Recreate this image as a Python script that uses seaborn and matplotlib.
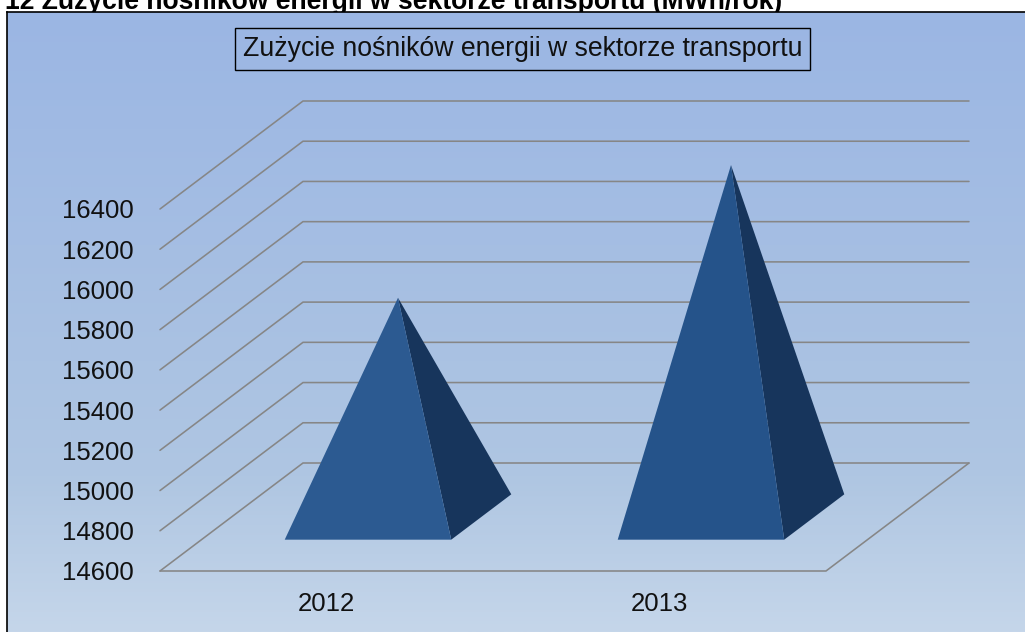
import matplotlib
matplotlib.use("Agg")
import matplotlib.pyplot as plt
from matplotlib.colors import LinearSegmentedColormap
import numpy as np
import pandas as pd
import seaborn as sns

years = ["2012", "2013"]
values = [15690, 16350]
y_ticks = [14600, 14800, 15000, 15200, 15400, 15600, 15800, 16000, 16200, 16400]
chart_title = "Zużycie nośników energii w sektorze transportu"
heading = "12 Zużycie nośników energii w sektorze transportu (MWh/rok)"

W, H = 1025, 632

sns.set_theme(style="white")
plt.rcParams["font.family"] = ["Liberation Sans", "DejaVu Sans"]

fig = plt.figure(figsize=(W / 100, H / 100), dpi=100, facecolor="white")

# background panel with the gradient, only left and top border
bg = fig.add_axes([7 / W, 0, 1 - 7 / W, 1 - 12 / H], zorder=0)
cmap = LinearSegmentedColormap.from_list(
    "panel", [(0, "#9BB6E4"), (0.75, "#AFC6E2"), (1, "#C5D6EA")])
bg.imshow(np.linspace(0, 1, 256).reshape(-1, 1), aspect="auto", cmap=cmap)
bg.set_xticks([])
bg.set_yticks([])
for side in ["right", "bottom"]:
    bg.spines[side].set_visible(False)
for side in ["left", "top"]:
    bg.spines[side].set_color("black")
    bg.spines[side].set_linewidth(1.2)

# the front plane of the 3d box is the real axes
ax = fig.add_axes([160 / W, 1 - 571 / H, 666 / W, 362 / H], zorder=1)
ax.patch.set_alpha(0)

df = pd.DataFrame({"year": years, "value": values})
sns.barplot(data=df, x="year", y="value", width=0.5, ax=ax)
ax.set_xlim(-0.5, 1.5)
ax.set_ylim(y_ticks[0], y_ticks[-1])
ax.set_xlabel("")
ax.set_ylabel("")
ax.set_yticks(y_ticks)
ax.tick_params(axis="y", length=0, pad=19, labelsize=18.5, labelcolor="#111111")
ax.tick_params(axis="x", length=0, pad=15, labelsize=18.5, labelcolor="#111111")
sns.despine(ax=ax, left=True, bottom=True)

# oblique projection, depth 0..1 goes right and up
depth_x = 143 / 333
depth_y = 108 / (362 / (y_ticks[-1] - y_ticks[0]))


def project(x, y, d):
    return x + d * depth_x, y + d * depth_y


grid_color = "#868686"
for v in y_ticks:
    x0, y0 = project(-0.5, v, 0)
    x1, y1 = project(-0.5, v, 1)
    x2, y2 = project(1.5, v, 1)
    ax.plot([x0, x1, x2], [y0, y1, y2], color=grid_color, lw=1.15,
            clip_on=False, zorder=2, solid_joinstyle="miter")
# floor
floor = y_ticks[0]
xa, ya = project(-0.5, floor, 0)
xb, yb = project(1.5, floor, 0)
xc, yc = project(1.5, floor, 1)
ax.plot([xa, xb, xc], [ya, yb, yc], color=grid_color, lw=1.15, clip_on=False, zorder=2)

# pyramids, geometry comes from the bars seaborn made
front_colors = ["#2C5A91", "#25538A"]
for bar, val, col in zip(ax.patches, values, front_colors):
    left = bar.get_x()
    right = left + bar.get_width()
    center = left + bar.get_width() / 2
    height = bar.get_height()
    bar.set_visible(False)
    fl = project(left, floor, 0.29)
    fr = project(right, floor, 0.29)
    br = project(right, floor, 0.71)
    apex = project(center, height, 0.5)
    ax.fill(*zip(br, fr, apex), color="#17355C", lw=0, clip_on=False, zorder=3)
    ax.fill(*zip(fl, fr, apex), color=col, lw=0, clip_on=False, zorder=4)

fig.text(522.5 / W, 1 - 49 / H, chart_title, ha="center", va="center", fontsize=19.2,
         color="#111111", zorder=5,
         bbox=dict(boxstyle="square,pad=0.3", fc="none", ec="black", lw=1))
fig.text(5 / W, 1 - 9 / H, heading, ha="left", va="baseline", fontsize=19.1,
         fontweight="bold", color="black", zorder=-1)

fig.savefig("out.png", dpi=100)
